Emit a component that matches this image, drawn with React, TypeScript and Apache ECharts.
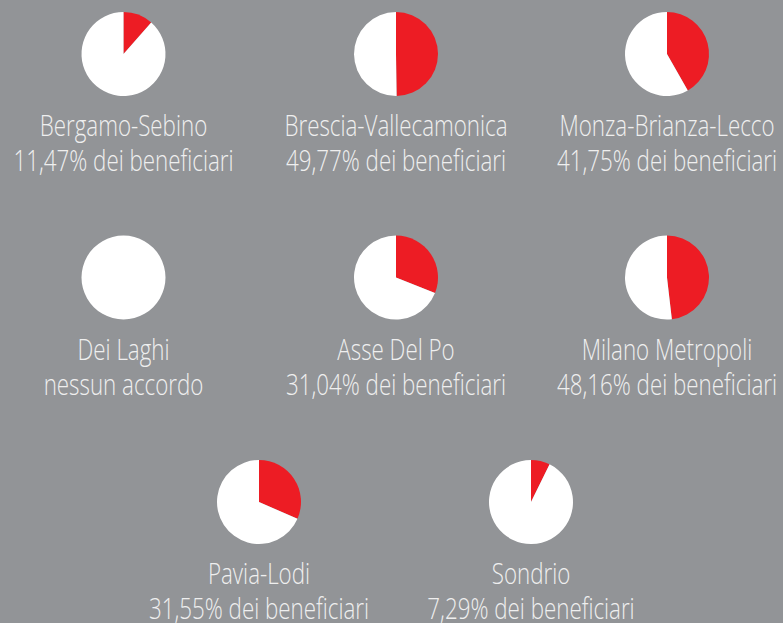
import React, { useEffect, useRef } from "react";
import * as echarts from "echarts";

const regions = [
  "Bergamo-Sebino",
  "Brescia-Vallecamonica",
  "Monza-Brianza-Lecco",
  "Dei Laghi",
  "Asse Del Po",
  "Milano Metropoli",
  "Pavia-Lodi",
  "Sondrio",
];
const shares = [11.47, 49.77, 41.75, 0, 31.04, 48.16, 31.55, 7.29];
const subtitles = [
  "11,47% dei beneficiari",
  "49,77% dei beneficiari",
  "41,75% dei beneficiari",
  "nessun accordo",
  "31,04% dei beneficiari",
  "48,16% dei beneficiari",
  "31,55% dei beneficiari",
  "7,29% dei beneficiari",
];
const centersX = [123.5, 396, 667, 123.5, 396, 667, 259, 531];
const centersY = [54, 54, 54, 277.5, 277.5, 277.5, 502, 502];

const RED = "#ed1c24";
const FONT = "'Open Sans', sans-serif";

export default function App() {
  const ref = useRef<HTMLDivElement>(null);
  useEffect(() => {
    document.body.style.margin = "0";
    const chart = echarts.init(ref.current!, null, { renderer: "svg" });
    const series = regions.map((name, i) => ({
      type: "pie",
      name,
      center: [centersX[i], centersY[i]],
      radius: 42,
      startAngle: 90,
      clockwise: true,
      silent: true,
      label: { show: false },
      labelLine: { show: false },
      emphasis: { disabled: true },
      data: [
        { name: "beneficiari", value: shares[i], itemStyle: { color: RED } },
        { name: "altri", value: 100 - shares[i], itemStyle: { color: "#ffffff" } },
      ],
    }));
    const graphic = regions.map((name, i) => ({
      type: "text",
      x: centersX[i],
      y: centersY[i] + 88.5,
      scaleX: 0.745,
      style: {
        text: name + "\n" + subtitles[i],
        fill: "#efefef",
        font: `300 30px ${FONT}`,
        textAlign: "center",
        textVerticalAlign: "middle",
        lineHeight: 35,
      },
    }));
    chart.setOption({
      animation: false,
      backgroundColor: "#929497",
      series,
      graphic,
    });
    return () => chart.dispose();
  }, []);
  return <div ref={ref} style={{ width: 783, height: 623 }} />;
}
